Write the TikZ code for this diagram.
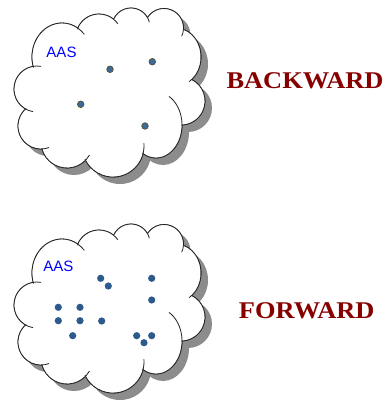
\documentclass[tikz,border=0pt]{standalone}
\usepackage{fontspec}
\usepackage{graphicx}
\setmainfont{Liberation Serif}
\newfontfamily\labelsans{Liberation Sans}

\definecolor{shadowgray}{RGB}{140,140,140}
\definecolor{outlinegray}{RGB}{35,35,35}
\definecolor{dotblue}{RGB}{60,105,155}
\definecolor{dotrim}{RGB}{85,85,40}
\definecolor{dotdark}{RGB}{45,90,140}
\definecolor{titlered}{RGB}{135,0,0}
\definecolor{aasblue}{RGB}{0,0,255}

% puffs of the cloud: centre x / centre y / x radius / y radius / arc start / arc end
\newcommand\cloudpuffs{37/89/23/23/100/280, 62/57/30/34/162/318, 99/37/23/23/200/325,
  131/27/19/19/204/345, 164/28/19.5/19.5/212/385, 176/57/25/29/287/418,
  181/101/24/24/-64/90, 156/125/26/33/-60/122, 113/146/31/31/-5/155,
  67/142/26/26/30/166, 41/126/23/23/70/230}

% filled region of the cloud (core polygon plus every puff)
\newcommand\cloudregion[1]{%
  \fill[#1] (37,89) -- (62,57) -- (99,37) -- (131,27) -- (164,28) -- (176,57)
    -- (181,101) -- (156,125) -- (113,146) -- (67,142) -- (41,126) -- cycle;
  \foreach \cx/\cy/\rx/\ry/\a/\b in \cloudpuffs
    {\fill[#1] (\cx,\cy) ellipse [x radius=\rx, y radius=\ry];}%
}

% a whole cloud with its drop shadow, shifted by (#1,#2)
\newcommand\puffycloud[2]{%
  \begin{scope}[shift={(#1,#2)}]
    \begin{scope}[shift={(7,7)}]
      \cloudregion{shadowgray}
    \end{scope}
    \foreach \cx/\cy/\rx/\ry/\a/\b in \cloudpuffs
      {\draw[cloudline] (\cx,\cy) ellipse [x radius=\rx, y radius=\ry];}
    \cloudregion{white}
    \foreach \cx/\cy/\rx/\ry/\a/\b in \cloudpuffs
      {\draw[cloudline] ([shift={({\a}:{\rx} and {\ry})}]\cx,\cy)
         arc [start angle=\a, end angle=\b, x radius=\rx, y radius=\ry];}
  \end{scope}%
}

\tikzset{
  cloudline/.style={draw=outlinegray, line width=0.8pt},
  spotrim/.style={circle, fill=dotblue, draw=dotrim, line width=0.7pt,
                  inner sep=0pt, minimum size=6.6pt},
  spotplain/.style={circle, fill=dotdark, inner sep=0pt, minimum size=7.2pt},
  areatag/.style={anchor=base, text=aasblue, inner sep=0pt,
                  font=\labelsans\fontsize{15}{15}\selectfont},
  direction/.style={anchor=base, text=titlered, inner sep=0pt,
                    font=\bfseries\fontsize{24}{24}\selectfont}
}

\begin{document}
\begin{tikzpicture}[x=1pt, y=-1pt]
  \useasboundingbox (0,0) rectangle (388,400);
  \fill[white] (0,0) rectangle (388,400);

  % upper cloud: backward search
  \puffycloud{0}{0}
  \node[areatag] (aasA) at (61.5,57.3) {AAS};
  \node[spotrim] (b1) at (110,69.3) {};
  \node[spotrim] (b2) at (152.3,61.7) {};
  \node[spotrim] (b3) at (80.7,104.3) {};
  \node[spotrim] (b4) at (145,126) {};
  \node[direction] (backward) at (305,88.5) {\scalebox{1.1}[1]{BACKWARD}};

  % lower cloud: forward search
  \puffycloud{0}{216}
  \node[areatag] (aasB) at (58.3,271) {AAS};
  \node[spotplain] (f1) at (100.7,278.3) {};
  \node[spotplain] (f2) at (108.3,286) {};
  \node[spotplain] (f3) at (151.7,278.3) {};
  \node[spotplain] (f4) at (151.7,300) {};
  \node[spotplain] (f5) at (58.3,307.3) {};
  \node[spotplain] (f6) at (80,307.3) {};
  \node[spotplain] (f7) at (58.3,320.7) {};
  \node[spotplain] (f8) at (80,320.7) {};
  \node[spotplain] (f9) at (101.7,321) {};
  \node[spotplain] (f10) at (72.7,335.7) {};
  \node[spotplain] (f11) at (136.7,335.7) {};
  \node[spotplain] (f12) at (151.7,335.7) {};
  \node[spotplain] (f13) at (144,342.7) {};
  \node[direction] (forward) at (306.7,318) {\scalebox{1.1}[1]{FORWARD}};
\end{tikzpicture}
\end{document}
